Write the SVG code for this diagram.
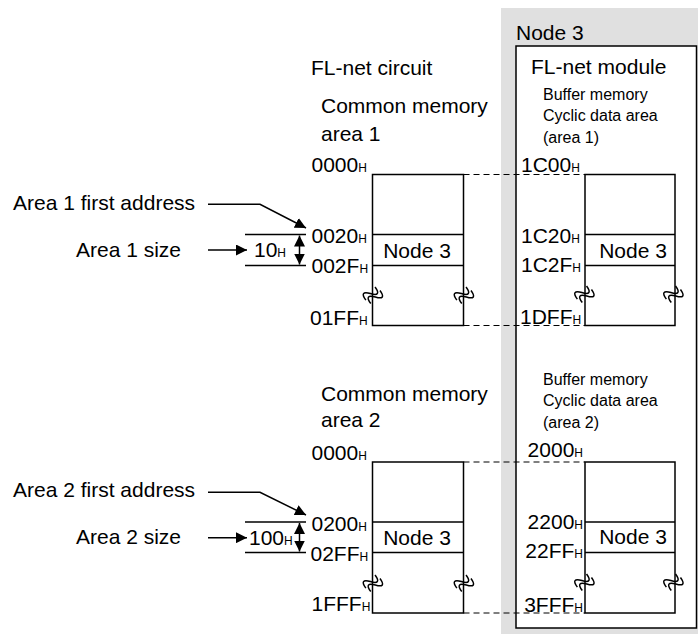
<svg xmlns="http://www.w3.org/2000/svg" width="698" height="637" viewBox="0 0 698 637">
<defs>
<style>
text{font-family:"Liberation Sans",Arial,sans-serif;fill:#000}
.t{font-size:21px}
.s{font-size:16px}
.h{font-size:12px}
.box{fill:#fff;stroke:#000;stroke-width:1.5}
.ln{stroke:#000;stroke-width:1.5;fill:none}
.dash{stroke:#000;stroke-width:1.2;stroke-dasharray:6 4;fill:none}
.wv{stroke:#000;stroke-width:1.5;fill:none}
</style>
<marker id="ah" markerUnits="userSpaceOnUse" markerWidth="11" markerHeight="11" refX="10" refY="5" orient="auto" viewBox="0 0 10 10">
<path d="M0,0 L10,5 L0,10 z" fill="#000"/>
</marker>
<marker id="ahs" markerUnits="userSpaceOnUse" markerWidth="11" markerHeight="11" refX="10" refY="5" orient="auto-start-reverse" viewBox="0 0 10 10">
<path d="M0,0 L10,5 L0,10 z" fill="#000"/>
</marker>
<g id="brk">
<g transform="rotate(-55)">
<path class="wv" d="M-8,-2.5 C-5.5,-10 -2.5,-10 0,-2.5 S5.5,5 8,-2.5"/>
<path class="wv" d="M-8,3.5 C-5.5,-4 -2.5,-4 0,3.5 S5.5,11 8,3.5"/>
</g>
</g>
</defs>

<rect x="501" y="8" width="197" height="626" fill="#e0e0e0"/>

<g id="node3-panel">
<rect class="box" x="516" y="46" width="180.5" height="582"/>
<text class="t" x="516" y="40">Node 3</text>
<text class="t" x="531" y="74">FL-net module</text>
<text class="s" x="543" y="100">Buffer memory</text>
<text class="s" x="543" y="121">Cyclic data area</text>
<text class="s" x="543" y="142.5">(area 1)</text>
<text class="s" x="543" y="384.5">Buffer memory</text>
<text class="s" x="543" y="406">Cyclic data area</text>
<text class="s" x="543" y="427.5">(area 2)</text>
</g>

<g id="circuit-labels">
<text class="t" x="311" y="75">FL-net circuit</text>
<text class="t" x="321" y="113">Common memory</text>
<text class="t" x="321" y="140.5">area 1</text>
<text class="t" x="321" y="400.5">Common memory</text>
<text class="t" x="321" y="427">area 2</text>
</g>

<g id="connectors">
<line class="dash" x1="463.5" y1="174.5" x2="585" y2="174.5"/>
<line class="dash" x1="463.5" y1="325.5" x2="585" y2="325.5"/>
<line class="dash" x1="463.5" y1="462" x2="585" y2="462"/>
<line class="dash" x1="463.5" y1="613" x2="585" y2="613"/>
<polyline class="ln" points="208,204.3 260,204.3 306,228" marker-end="url(#ah)"/>
<line class="ln" x1="208" y1="250" x2="247" y2="250" marker-end="url(#ah)"/>
<line class="ln" x1="245" y1="234.5" x2="306" y2="234.5"/>
<line class="ln" x1="245" y1="265.5" x2="306" y2="265.5"/>
<line class="ln" x1="299.5" y1="235.5" x2="299.5" y2="264.5" marker-start="url(#ahs)" marker-end="url(#ahs)"/>
<polyline class="ln" points="208,492.3 260,492.3 306,515" marker-end="url(#ah)"/>
<line class="ln" x1="208" y1="537.7" x2="247" y2="537.7" marker-end="url(#ah)"/>
<line class="ln" x1="245" y1="522" x2="306" y2="522"/>
<line class="ln" x1="245" y1="552.5" x2="306" y2="552.5"/>
<line class="ln" x1="299.5" y1="523" x2="299.5" y2="551.5" marker-start="url(#ahs)" marker-end="url(#ahs)"/>
</g>

<g id="area-labels">
<text class="t" x="13" y="210">Area 1 first address</text>
<text class="t" x="76" y="256.5">Area 1 size</text>
<text class="t" x="254" y="256.5">10<tspan class="h">H</tspan></text>
<text class="t" x="13" y="497">Area 2 first address</text>
<text class="t" x="76" y="544">Area 2 size</text>
<text class="t" x="249" y="545">100<tspan class="h">H</tspan></text>
</g>

<g id="cm1">
<rect class="box" x="372.5" y="174.5" width="91" height="151"/>
<line class="ln" x1="372.5" y1="234.5" x2="463.5" y2="234.5"/>
<line class="ln" x1="372.5" y1="265.5" x2="463.5" y2="265.5"/>
<text class="t" x="417" y="257.5" text-anchor="middle">Node 3</text>
<use href="#brk" x="372.5" y="295"/>
<use href="#brk" x="463.5" y="295"/>
<text class="t" x="311.5" y="171.7">0000<tspan class="h">H</tspan></text>
<text class="t" x="311.5" y="243.3">0020<tspan class="h">H</tspan></text>
<text class="t" x="311.5" y="273">002F<tspan class="h">H</tspan></text>
<text class="t" x="310" y="325.3">01FF<tspan class="h">H</tspan></text>
</g>

<g id="buf1">
<rect class="box" x="585" y="174.5" width="90" height="151"/>
<line class="ln" x1="585" y1="234.5" x2="675" y2="234.5"/>
<line class="ln" x1="585" y1="265.5" x2="675" y2="265.5"/>
<text class="t" x="633" y="258.3" text-anchor="middle">Node 3</text>
<use href="#brk" x="584" y="294"/>
<use href="#brk" x="673" y="294"/>
<text class="t" x="521" y="171.7">1C00<tspan class="h">H</tspan></text>
<text class="t" x="521" y="243.3">1C20<tspan class="h">H</tspan></text>
<text class="t" x="521" y="271.7">1C2F<tspan class="h">H</tspan></text>
<text class="t" x="520" y="324">1DFF<tspan class="h">H</tspan></text>
</g>

<g id="cm2">
<rect class="box" x="372.5" y="462" width="91" height="151"/>
<line class="ln" x1="372.5" y1="522" x2="463.5" y2="522"/>
<line class="ln" x1="372.5" y1="552.5" x2="463.5" y2="552.5"/>
<text class="t" x="417" y="545" text-anchor="middle">Node 3</text>
<use href="#brk" x="372.5" y="583"/>
<use href="#brk" x="463.5" y="583"/>
<text class="t" x="311.5" y="460">0000<tspan class="h">H</tspan></text>
<text class="t" x="311.5" y="530.7">0200<tspan class="h">H</tspan></text>
<text class="t" x="310.5" y="560.7">02FF<tspan class="h">H</tspan></text>
<text class="t" x="311.5" y="610.7">1FFF<tspan class="h">H</tspan></text>
</g>

<g id="buf2">
<rect class="box" x="585" y="462" width="90" height="151"/>
<line class="ln" x1="585" y1="522" x2="675" y2="522"/>
<line class="ln" x1="585" y1="552.5" x2="675" y2="552.5"/>
<text class="t" x="633" y="544" text-anchor="middle">Node 3</text>
<use href="#brk" x="584" y="582"/>
<use href="#brk" x="673" y="582"/>
<text class="t" x="583" y="456.7" text-anchor="end">2000<tspan class="h">H</tspan></text>
<text class="t" x="583" y="529.3" text-anchor="end">2200<tspan class="h">H</tspan></text>
<text class="t" x="583" y="558.3" text-anchor="end">22FF<tspan class="h">H</tspan></text>
<text class="t" x="583" y="611.7" text-anchor="end">3FFF<tspan class="h">H</tspan></text>
</g>
</svg>
